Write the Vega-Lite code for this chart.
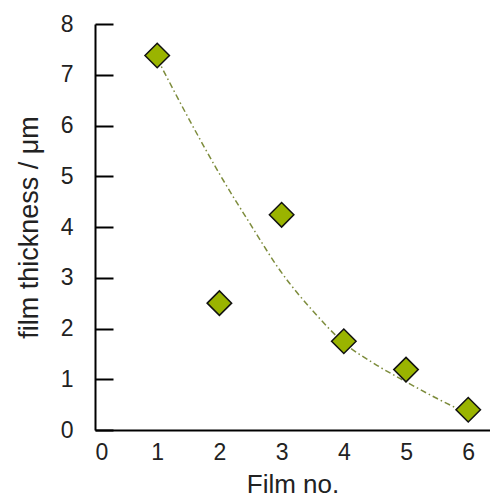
{
  "$schema": "https://vega.github.io/schema/vega-lite/v6.json",
  "width": 395,
  "height": 406,
  "autosize": {"type": "none"},
  "padding": {"left": 95, "top": 24, "right": 0, "bottom": 69},
  "background": "white",
  "config": {
    "view": {"stroke": null},
    "font": "Liberation Sans"
  },
  "datasets": {
    "points": [
      {"film": 1, "thickness": 7.38},
      {"film": 2, "thickness": 2.5},
      {"film": 3, "thickness": 4.24},
      {"film": 4, "thickness": 1.75},
      {"film": 5, "thickness": 1.19},
      {"film": 6, "thickness": 0.4}
    ],
    "fit": [
      {"film": 1, "thickness": 7.32},
      {"film": 1.5, "thickness": 6.15},
      {"film": 2, "thickness": 5.05},
      {"film": 2.5, "thickness": 4.05},
      {"film": 3, "thickness": 3.1},
      {"film": 3.5, "thickness": 2.35},
      {"film": 4, "thickness": 1.72},
      {"film": 4.5, "thickness": 1.3},
      {"film": 5, "thickness": 0.95},
      {"film": 5.5, "thickness": 0.62},
      {"film": 6, "thickness": 0.32}
    ]
  },
  "layer": [
    {
      "data": {"name": "fit"},
      "mark": {"type": "line", "interpolate": "monotone", "color": "#7d8c3c", "strokeWidth": 1.5, "strokeDash": [6, 3, 1.5, 3]},
      "encoding": {
        "x": {
          "field": "film", "type": "quantitative",
          "scale": {"domain": [0, 6.35], "nice": false, "zero": false},
          "axis": {
            "title": "Film no.",
            "values": [0, 1, 2, 3, 4, 5, 6],
            "format": "d",
            "ticks": false,
            "grid": false,
            "domainColor": "black",
            "domainWidth": 2,
            "labelFontSize": 23,
            "labelColor": "#222",
            "labelPadding": 11,
            "titleFontSize": 26,
            "titleFontWeight": "normal",
            "titleColor": "#222",
            "titlePadding": 7
          }
        },
        "y": {
          "field": "thickness", "type": "quantitative",
          "scale": {"domain": [0, 8], "nice": false},
          "axis": {
            "title": "film thickness / μm",
            "values": [0, 0.5, 1, 1.5, 2, 2.5, 3, 3.5, 4, 4.5, 5, 5.5, 6, 6.5, 7, 7.5, 8],
            "labelExpr": "datum.value % 1 === 0 ? datum.value : ''",
            "grid": false,
            "domainColor": "black",
            "domainWidth": 2,
            "tickColor": "black",
            "tickWidth": 2,
            "tickSize": {"condition": {"test": "datum.value % 1 === 0", "value": -18}, "value": -9},
            "labelFontSize": 23,
            "labelColor": "#222",
            "labelPadding": 40,
            "titleFontSize": 27,
            "titleFontWeight": "normal",
            "titleColor": "#222",
            "titlePadding": 17
          }
        }
      }
    },
    {
      "data": {"name": "points"},
      "mark": {"type": "point", "shape": "diamond", "filled": true, "fill": "#9ab400", "stroke": "#111", "strokeWidth": 1.5, "size": 600, "opacity": 1},
      "encoding": {
        "x": {"field": "film", "type": "quantitative"},
        "y": {"field": "thickness", "type": "quantitative"}
      }
    },
    {
      "mark": {"type": "rule", "color": "black", "strokeWidth": 2},
      "encoding": {"y": {"datum": 8, "type": "quantitative"}}
    }
  ]
}
